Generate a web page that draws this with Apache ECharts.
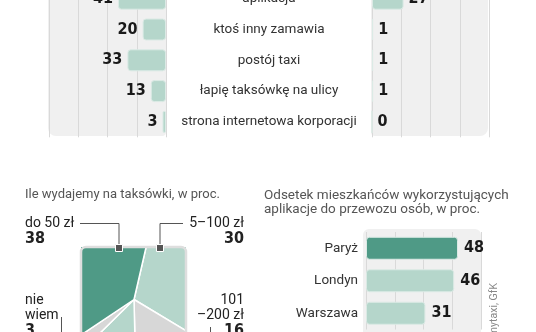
<!DOCTYPE html>
<html>
<head>
<meta charset="utf-8">
<script src="https://cdn.jsdelivr.net/npm/echarts@6/dist/echarts.min.js"></script>
<style>
  html, body { margin: 0; padding: 0; background: #fff; }
  #chart { width: 536px; height: 332px; }
</style>
</head>
<body>
<div id="chart"></div>
<script>
// dane
const topCats = ['aplikacja', 'ktoś inny zamawia', 'postój taxi', 'łapię taksówkę na ulicy', 'strona internetowa korporacji'];
const topLeftVals = [41, 20, 33, 13, 3];
const topRightVals = [27, 1, 1, 1, 0];
const spendCats = ['5–100 zł', '101–200 zł', 'powyżej 200 zł', 'nie wiem', 'do 50 zł'];
const spendVals = [30, 16, 13, 3, 38];
const cities = ['Paryż', 'Londyn', 'Warszawa'];
const cityVals = [48, 46, 31];

const DARK = '#4f9a86';
const LIGHT = '#b5d6cb';
const GREY = '#d7d7d7';
const PANEL = '#f0f0f0';
const NUM_FONT = '"Liberation Sans Narrow", "DejaVu Sans Condensed", sans-serif';
const TXT_FONT = 'Roboto, "Noto Sans", sans-serif';

let chart = echarts.init(document.getElementById('chart'));

function txt(x, y, s, size, bold, align, color) {
  return {
    type: 'text', x: x, y: y, z: 60, silent: true,
    style: {
      text: s, fill: color || '#222',
      font: (bold ? 'bold ' : '') + size + 'px ' + (bold ? NUM_FONT : TXT_FONT),
      align: align || 'left', textAlign: align || 'left',
      verticalAlign: 'middle', textVerticalAlign: 'middle'
    }
  };
}
function line(points) {
  return { type: 'polyline', z: 60, silent: true, shape: { points: points }, style: { stroke: '#555', lineWidth: 1, fill: null } };
}
function marker(x, y) {
  return { type: 'rect', z: 61, silent: true, shape: { x: x - 3.5, y: y - 3.5, width: 7, height: 7 }, style: { fill: '#555', stroke: '#fff', lineWidth: 1 } };
}
function mask(x, y, w, h) {
  return { type: 'rect', z: 50, silent: true, shape: { x: x, y: y, width: w, height: h }, style: { fill: '#fff' } };
}

const barLabel = {
  show: true, fontFamily: NUM_FONT, fontWeight: 'bold', fontSize: 16, color: '#1a1a1a', distance: 5
};
const barStyle = { color: LIGHT, borderColor: '#dbeae5', borderWidth: 1, borderRadius: 3 };

const valAxis = (idx, inverse, max, interval) => ({
  gridIndex: idx, type: 'value', min: 0, max: max, interval: interval, inverse: inverse,
  axisLine: { show: false }, axisTick: { show: false }, axisLabel: { show: false },
  splitLine: { show: true, lineStyle: { color: '#d9d9d9', width: 1 } }
});

chart.setOption({
  animation: false,
  grid: [
    { left: 49, width: 117, top: -16.7, height: 154, outerBoundsMode: 'none' },
    { left: 372, width: 117, top: -16.7, height: 154, outerBoundsMode: 'none' },
    { left: 366, width: 115, top: 232, height: 97.5, outerBoundsMode: 'none' }
  ],
  xAxis: [valAxis(0, true, 100, 25), valAxis(1, false, 100, 25), valAxis(2, false, 60, 15)],
  yAxis: [
    {
      gridIndex: 0, type: 'category', data: topCats, inverse: true, position: 'right',
      axisLine: { show: false }, axisTick: { show: false },
      axisLabel: { margin: 103, align: 'center', fontFamily: TXT_FONT, fontSize: 13.5, color: '#333' }
    },
    {
      gridIndex: 1, type: 'category', data: topCats, inverse: true,
      axisLine: { show: false }, axisTick: { show: false }, axisLabel: { show: false }
    },
    {
      gridIndex: 2, type: 'category', data: cities, inverse: true,
      axisLine: { show: false }, axisTick: { show: false },
      axisLabel: { margin: 8, fontFamily: TXT_FONT, fontSize: 13.5, color: '#333' }
    }
  ],
  series: [
    {
      type: 'bar', xAxisIndex: 0, yAxisIndex: 0, data: topLeftVals, barWidth: 22, silent: true,
      itemStyle: barStyle, label: Object.assign({ position: 'left' }, barLabel)
    },
    {
      type: 'bar', xAxisIndex: 1, yAxisIndex: 1, data: topRightVals, barWidth: 22, silent: true,
      itemStyle: barStyle, label: Object.assign({ position: 'right' }, barLabel)
    },
    {
      type: 'bar', xAxisIndex: 2, yAxisIndex: 2, barWidth: 23, silent: true,
      data: cityVals.map((v, i) => ({ value: v, itemStyle: { color: i === 0 ? DARK : LIGHT } })),
      itemStyle: barStyle, label: Object.assign({ position: 'right' }, barLabel, { distance: 6 })
    },
    {
      type: 'pie', center: [134, 299.5], radius: 78, startAngle: 77, clockwise: true,
      silent: true, label: { show: false }, labelLine: { show: false },
      itemStyle: { borderColor: '#fff', borderWidth: 1.5 },
      data: spendCats.map((c, i) => ({
        name: c, value: spendVals[i],
        itemStyle: { color: [LIGHT, GREY, LIGHT, GREY, DARK][i] }
      }))
    }
  ],
  graphic: [
    // tła paneli
    { type: 'rect', z: -10, silent: true, shape: { x: 48, y: -20, width: 118, height: 156, r: [0, 0, 4, 8] }, style: { fill: PANEL } },
    { type: 'rect', z: -10, silent: true, shape: { x: 371, y: -20, width: 117, height: 156, r: [0, 0, 8, 4] }, style: { fill: PANEL } },
    { type: 'rect', z: -10, silent: true, shape: { x: 363, y: 229, width: 118, height: 110, r: [6, 6, 0, 0] }, style: { fill: PANEL } },
    // maska kwadratu dla wykresu kołowego
    mask(52, 216, 29, 170),
    mask(186, 216, 30, 170),
    mask(81, 216, 105, 31),
    mask(81, 352, 105, 30),
    { type: 'rect', z: 55, silent: true, shape: { x: 81, y: 247, width: 105, height: 105, r: 5 }, style: { fill: null, stroke: '#dedede', lineWidth: 2.5 } },
    // tytuły
    txt(25, 195, 'Ile wydajemy na taksówki, w proc.', 13, false, 'left', '#555'),
    txt(264, 196, 'Odsetek mieszkańców wykorzystujących', 13.5, false, 'left', '#555'),
    txt(264, 209.5, 'aplikacje do przewozu osób, w proc.', 13.5, false, 'left', '#555'),
    // etykiety wykresu kołowego
    txt(25, 223, spendCats[4], 14, false, 'left'),
    txt(25, 238.5, String(spendVals[4]), 16, true, 'left'),
    txt(244, 223, spendCats[0], 14, false, 'right'),
    txt(244, 238.5, String(spendVals[0]), 16, true, 'right'),
    txt(25, 300, 'nie', 14, false, 'left'),
    txt(25, 315, 'wiem', 14, false, 'left'),
    txt(25, 331, String(spendVals[3]), 16, true, 'left'),
    txt(244, 300, '101', 14, false, 'right'),
    txt(244, 315, '–200 zł', 14, false, 'right'),
    txt(244, 331, String(spendVals[1]), 16, true, 'right'),
    line([[80, 223.5], [119, 223.5], [119, 247]]),
    line([[183, 223.5], [160, 223.5], [160, 247]]),
    line([[61.5, 317], [61.5, 340]]),
    line([[210.5, 327], [210.5, 340]]),
    marker(119, 248),
    marker(160, 248),
    // źródło
    {
      type: 'text', x: 494, y: 283, rotation: Math.PI / 2, z: 60, silent: true,
      style: { text: 'Źródło: mytaxi, GfK', fill: '#888', font: '10.5px ' + TXT_FONT, align: 'right', textAlign: 'right', verticalAlign: 'middle', textVerticalAlign: 'middle' }
    }
  ]
});
</script>
</body>
</html>
